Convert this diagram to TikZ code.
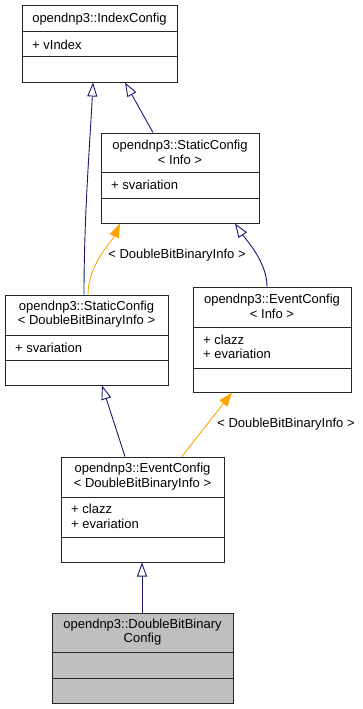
\documentclass[tikz,border=0pt]{standalone}
\usepackage{fontspec}
\setmainfont{Liberation Sans}
\usetikzlibrary{arrows.meta}

\definecolor{edgeblue}{HTML}{191970}
\definecolor{edgeorange}{HTML}{FFA500}
\definecolor{boxgray}{HTML}{BFBFBF}
\newcommand{\umlfont}{\fontsize{13}{14.4}\selectfont}

\tikzset{
  cls/.style={draw=black!85,line width=1pt,fill=white,inner sep=0pt},
  divider/.style={draw=black!85,line width=1pt},
  ctitle/.style={align=center,inner sep=0pt,font=\umlfont},
  cattr/.style={align=left,anchor=west,inner sep=0pt,font=\umlfont},
  inherit/.style={draw=edgeblue,line width=0.9pt,-{Triangle[open,length=14pt,width=10pt,fill=white]}},
  tmpl/.style={draw=edgeorange,line width=0.9pt,-{Triangle[length=14pt,width=10pt]}},
  tmpllabel/.style={inner sep=0pt,font=\umlfont}
}

\begin{document}
\begin{tikzpicture}[x=1pt,y=-1pt]
\useasboundingbox (0,0) rectangle (363,709);

% IndexConfig
\node[cls,minimum width=155pt,minimum height=76pt] (index) at (99.5,44) {};
\draw[divider] (22,32)--(177,32) (22,57)--(177,57);
\node[ctitle] (indexT) at (99.5,19) {opendnp3::IndexConfig};
\node[cattr] (indexA) at (32,44.5) {+ vIndex};

% StaticConfig< Info >
\node[cls,minimum width=158pt,minimum height=90pt] (sinfo) at (180,178) {};
\draw[divider] (101,172)--(259,172) (101,198)--(259,198);
\node[ctitle] (sinfoT) at (180,152.5) {opendnp3::StaticConfig\\< Info >};
\node[cattr] (sinfoA) at (111,185) {+ svariation};

% StaticConfig< DoubleBitBinaryInfo >
\node[cls,minimum width=163pt,minimum height=90pt] (sdbbi) at (86.5,340) {};
\draw[divider] (5,335)--(168,335) (5,360)--(168,360);
\node[ctitle] (sdbbiT) at (86.5,314) {opendnp3::StaticConfig\\< DoubleBitBinaryInfo >};
\node[cattr] (sdbbiA) at (15,347.5) {+ svariation};

% EventConfig< Info >
\node[cls,minimum width=158pt,minimum height=105pt] (einfo) at (272,339.5) {};
\draw[divider] (193,327)--(351,327) (193,368)--(351,368);
\node[ctitle] (einfoT) at (272,306.5) {opendnp3::EventConfig\\< Info >};
\node[cattr] (einfoA) at (203,347) {+ clazz\\+ evariation};

% EventConfig< DoubleBitBinaryInfo >
\node[cls,minimum width=163pt,minimum height=105pt] (edbbi) at (142.5,509.5) {};
\draw[divider] (61,497)--(224,497) (61,537)--(224,537);
\node[ctitle] (edbbiT) at (142.5,476.5) {opendnp3::EventConfig\\< DoubleBitBinaryInfo >};
\node[cattr] (edbbiA) at (71,516.5) {+ clazz\\+ evariation};

% DoubleBitBinaryConfig
\node[cls,fill=boxgray,minimum width=181pt,minimum height=90pt] (dbbc) at (142.5,658) {};
\draw[divider] (52,652)--(233,652) (52,678)--(233,678);
\node[ctitle] (dbbcT) at (142.5,632) {opendnp3::DoubleBitBinary\\Config};

% inheritance
\draw[inherit] ([xshift=-2.5pt]sdbbi.north) .. controls +(0,-80) and +(-3,60) .. ([xshift=-6.5pt]index.south);
\draw[inherit] ([xshift=-27pt]sinfo.north) -- ([xshift=25.5pt]index.south);
\draw[inherit] ([xshift=-5pt]einfo.north) .. controls +(0,-25) and +(10,15) .. ([xshift=55pt]sinfo.south);
\draw[inherit] ([xshift=-17.5pt]edbbi.north) -- ([xshift=15.5pt]sdbbi.south);
\draw[inherit] ([xshift=-0.5pt]dbbc.north) -- ([xshift=-0.5pt]edbbi.south);

% template instances
\draw[tmpl] ([xshift=1.5pt]sdbbi.north) .. controls +(0,-30) and +(-8,18) .. ([xshift=-60pt]sinfo.south);
\node[tmpllabel] (lblStatic) at (177,255) {< DoubleBitBinaryInfo >};
\draw[tmpl] ([xshift=39.5pt]edbbi.north) -- ([xshift=-40pt]einfo.south);
\node[tmpllabel] (lblEvent) at (286,424) {< DoubleBitBinaryInfo >};
\end{tikzpicture}
\end{document}
